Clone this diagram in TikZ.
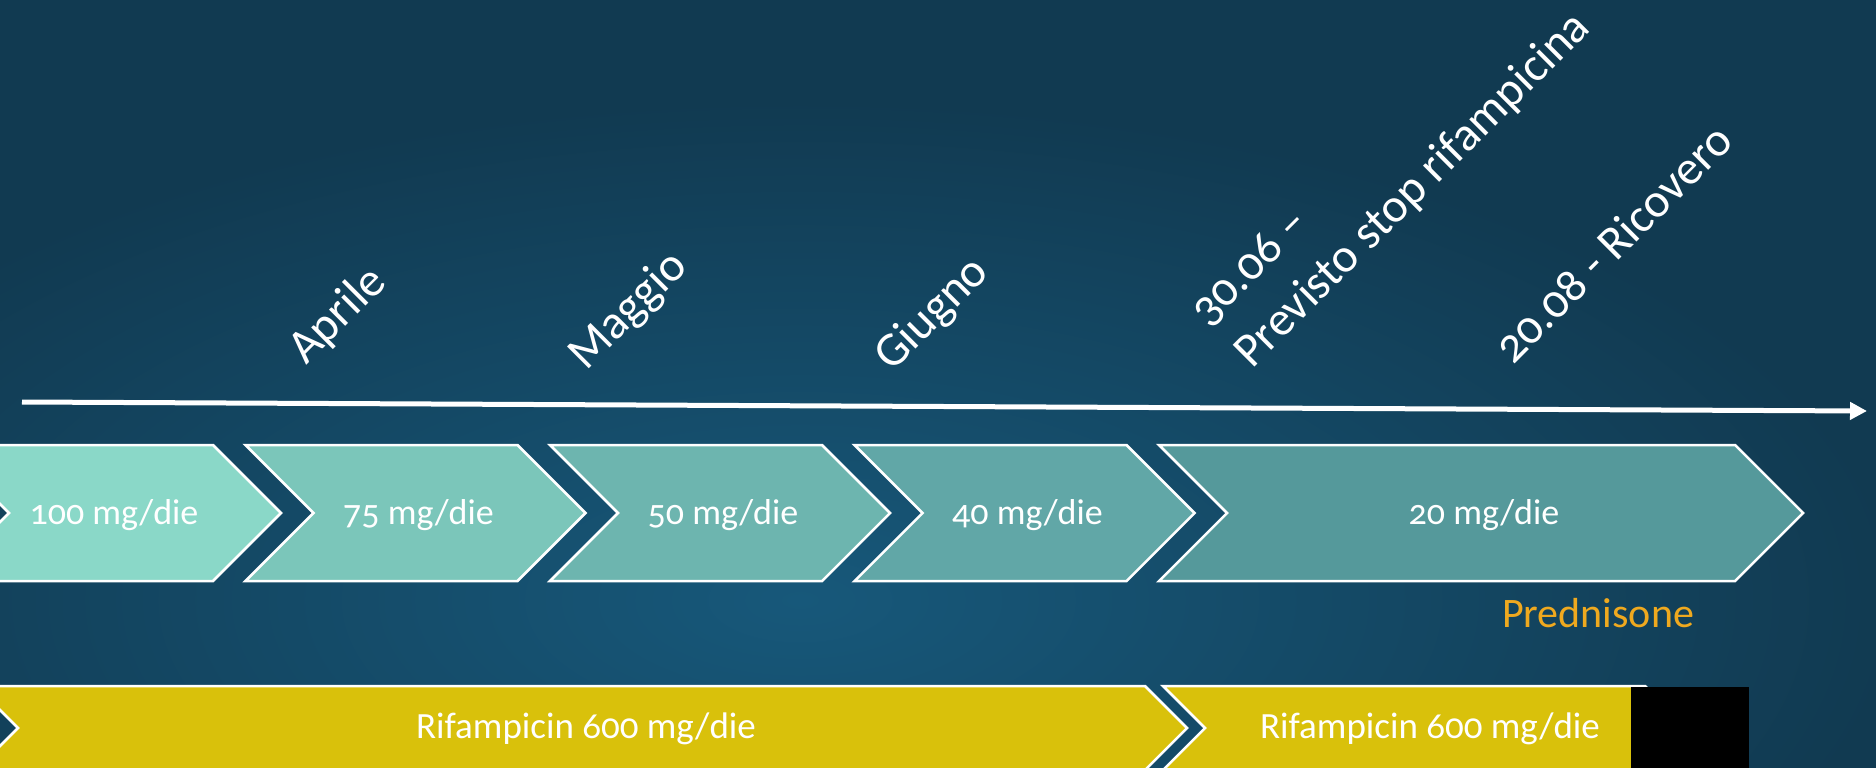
\documentclass[tikz,border=0pt]{standalone}
\usepackage{fontspec}
\setmainfont{Carlito}[Numbers=OldStyle]
\usetikzlibrary{arrows.meta}

\definecolor{bgdark}{HTML}{113A51}
\definecolor{bglight}{HTML}{17587A}
\definecolor{doseA}{HTML}{8AD8C8}
\definecolor{doseB}{HTML}{7BC6BA}
\definecolor{doseC}{HTML}{6DB5AF}
\definecolor{doseD}{HTML}{61A7A7}
\definecolor{doseE}{HTML}{55999B}
\definecolor{rifa}{HTML}{D9C10B}
\definecolor{predn}{HTML}{EFA91F}

% prednisone step: name, left x, body end x, fill, text
\newcommand\dosestep[5]{%
  \draw[stepoutline, fill=#4] (#2,445) -- (#3,445) -- ({#3+68},513) -- (#3,581)
    -- (#2,581) -- ({#2+68},513) -- cycle;
  \node[dosetext] (#1) at ({(#2+#3+68)/2+3},524) {#5};
}
% rifampicin band: left x, body end x
\newcommand\rifaband[2]{%
  \draw[stepoutline, fill=rifa] (#1,686) -- (#2,686) -- ({#2+42},728) -- (#2,770)
    -- (#1,770) -- ({#1+42},728) -- cycle;
}

\begin{document}
\begin{tikzpicture}[x=1pt,y=-1pt,
  stepoutline/.style={draw=white, line width=2.5pt, line join=miter},
  dosetext/.style={text=white, font=\fontsize{36}{43}\selectfont, inner sep=0pt, anchor=base},
  bandtext/.style={text=white, font=\fontsize{37}{44}\selectfont, inner sep=0pt, anchor=base},
  datelabel/.style={text=white, font=\fontsize{48}{58}\selectfont, inner sep=0pt,
    anchor=base west, rotate=45},
  axisline/.style={white, line width=5pt, -{Triangle[length=17pt,width=17pt]}}]
\useasboundingbox (0,0) rectangle (1876,768);
\clip (0,0) rectangle (1876,768);

% background
\fill[bgdark] (0,0) rectangle (1876,768);
\shade[inner color=bglight, outer color=bgdark] (-300,100) rectangle (1900,1100);

% time axis
\coordinate (axstart) at (22,402);
\coordinate (axend) at (1867,411);
\draw[axisline] (axstart) -- (axend);

% month / event labels
\node[datelabel] (aprile) at (306,366) {Aprile};
\node[datelabel] (maggio) at (586,372) {Maggio};
\node[datelabel] (giugno) at (892,373) {Giugno};
\node[datelabel] (stopA) at (1208,328) {30.06 –};
\node[datelabel] (stopB) at (1252,370) {Previsto stop rifampicina};
\node[datelabel] (ricovero) at (1513,366) {20.08 - Ricovero};

% prednisone tapering
\dosestep{d100}{-59}{213}{doseA}{100 mg/die}
\dosestep{d75}{245.5}{517.5}{doseB}{75 mg/die}
\dosestep{d50}{550}{822}{doseC}{50 mg/die}
\dosestep{d40}{854.5}{1126.5}{doseD}{40 mg/die}
\dosestep{d20}{1159}{1735}{doseE}{20 mg/die}
\node[text=predn, font=\fontsize{42}{50}\selectfont, inner sep=0pt, anchor=base]
  (prednisone) at (1598,627) {Prednisone};

% rifampicin
\rifaband{-24}{1145}
\node[bandtext] (rifA) at (586,738) {Rifampicin 600 mg/die};
\rifaband{1163}{1645}
\node[bandtext] (rifB) at (1430,738) {Rifampicin 600 mg/die};
\fill[black] (1631,687) rectangle (1749,770);
\end{tikzpicture}
\end{document}
